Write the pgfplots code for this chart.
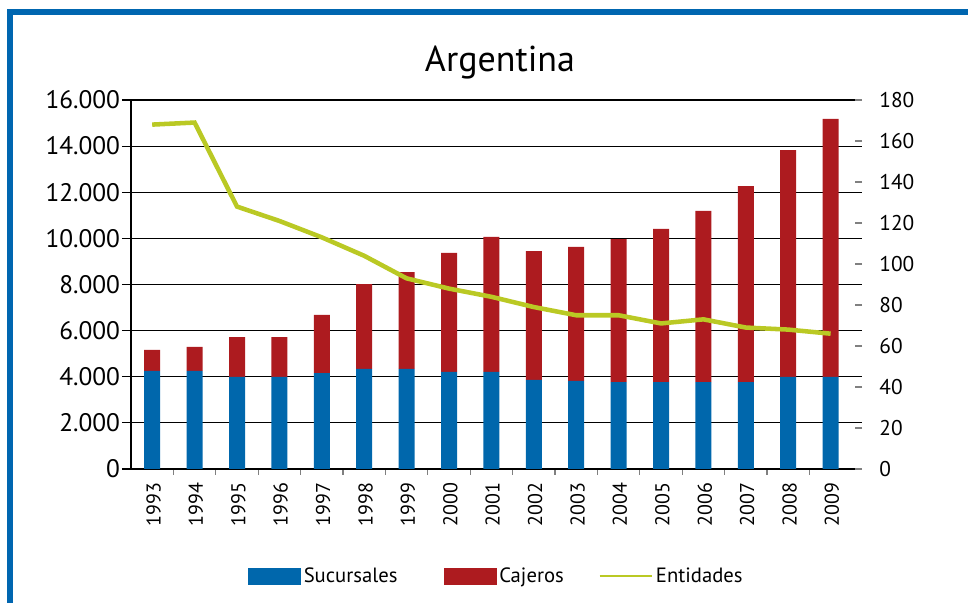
\documentclass[border=0pt]{standalone}
\usepackage{pgfplots}
\pgfplotsset{compat=1.18}
\usepackage{pgfplotstable}
\usepackage{fontspec}
\setmainfont{PT Sans}
\definecolor{cblue}{RGB}{0,103,172}
\definecolor{cred}{RGB}{173,27,31}
\definecolor{cgreen}{RGB}{186,201,36}
\definecolor{frameblue}{RGB}{0,102,176}

\pgfplotstableread{
x blue red ent
0 4250 910 168
1 4250 1040 169
2 3990 1730 128
3 3990 1730 121
4 4160 2520 113
5 4340 3680 104
6 4340 4200 93
7 4210 5160 88
8 4210 5850 84
9 3860 5590 79
10 3820 5810 75
11 3770 6200 75
12 3770 6640 71
13 3770 7420 73
14 3770 8500 69
15 3990 9840 68
16 3990 11190 66
}\data

\begin{document}
\begin{tikzpicture}
\useasboundingbox (0,0) rectangle (726pt,452.25pt);
\fill[frameblue] (5.25pt,441pt) rectangle (726pt,445.5pt);
\fill[frameblue] (5.25pt,0pt) rectangle (9.75pt,445.5pt);
\node[font=\fontsize{27}{30}\selectfont] at (375pt,405pt) {Argentina};

\begin{axis}[
  at={(98.25pt,100.5pt)}, anchor=south west,
  scale only axis, width=548.25pt, height=276.75pt,
  xmin=-0.5, xmax=16.74, ymin=0, ymax=16000,
  axis x line*=bottom, axis y line*=left,
  x axis line style={line width=1.9pt, black},
  y axis line style={line width=1.3pt, black},
  ybar stacked, bar width=12pt,
  xtick={0,...,16},
  xticklabels={1993,1994,1995,1996,1997,1998,1999,2000,2001,2002,2003,2004,2005,2006,2007,2008,2009},
  major x tick style={draw=none},
  minor xtick={0.5,1.5,...,15.5},
  minor x tick style={gray, line width=0.8pt},
  minor tick length=4.5pt,
  tick align=outside,
  x tick label style={rotate=90, anchor=east, font=\fontsize{15}{17}\selectfont, yshift=-1pt},
  ytick={0,2000,...,16000},
  ymajorgrids, grid style={black, line width=0.8pt},
  y tick style={black, line width=0.8pt},
  major tick length=6.75pt,
  y tick label style={font=\fontsize{19}{21}\selectfont, xshift=2pt},
  /pgf/number format/assume math mode=true,
  /pgf/number format/1000 sep={.},
  scaled y ticks=false,
]
\addplot[fill=cblue, draw=none] table[x=x,y=blue]{\data};
\addplot[fill=cred, draw=none] table[x=x,y=red]{\data};
\end{axis}

\begin{axis}[
  at={(98.25pt,100.5pt)}, anchor=south west,
  scale only axis, width=548.25pt, height=276.75pt,
  xmin=-0.5, xmax=16.74, ymin=0, ymax=180,
  axis x line=none, axis y line*=right,
  y axis line style={draw=none},
  ytick={0,20,...,180},
  tick align=inside,
  major tick length=5.25pt,
  y tick style={gray, line width=0.9pt},
  y tick label style={font=\fontsize{16}{18}\selectfont, xshift=9.5pt},
  /pgf/number format/assume math mode=true,
  legend columns=3,
  legend style={at={(0.16,-0.29)}, anchor=west, draw=none, fill=none,
    inner sep=0pt, column sep=0pt,
    nodes={inner sep=2.25pt, font=\fontsize{15.5}{17}\selectfont}},
]
\addlegendimage{legend image code/.code={\fill[cblue] (0pt,-6pt) rectangle (39pt,6pt);}}
\addlegendentry{\makebox[102.75pt][l]{Sucursales}}
\addlegendimage{legend image code/.code={\fill[cred] (0pt,-6pt) rectangle (39pt,6pt);}}
\addlegendentry{\makebox[72pt][l]{Cajeros}}
\addplot[cgreen, line width=3.4pt, no markers,
  legend image code/.code={\draw[cgreen, line width=2pt] (0pt,0pt) -- (39pt,0pt);}]
  table[x=x,y=ent]{\data};
\addlegendentry{Entidades}
\end{axis}
\end{tikzpicture}
\end{document}
